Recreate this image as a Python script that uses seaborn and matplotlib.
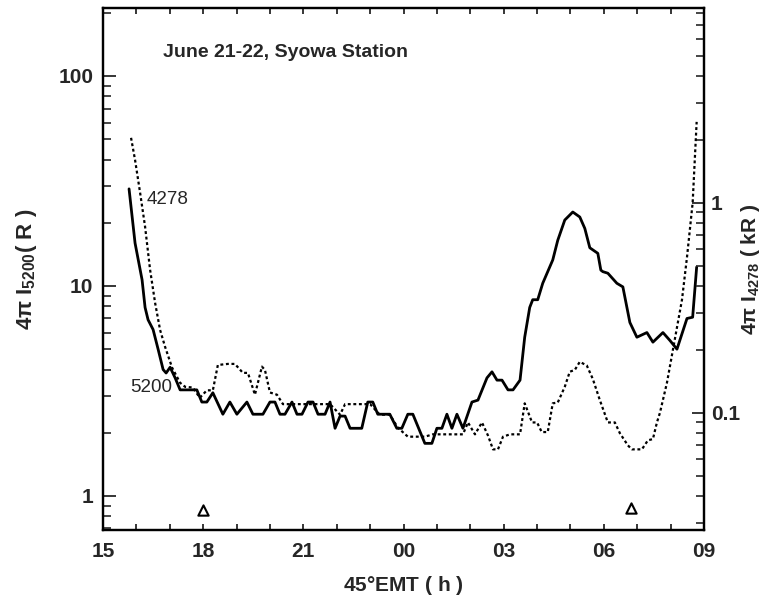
import matplotlib
matplotlib.use("Agg")
import matplotlib.pyplot as plt
import numpy as np
import pandas as pd
import seaborn as sns
from matplotlib.ticker import FixedLocator, LogLocator, NullFormatter, FixedFormatter

# Hours counted from 00 h on June 21 (values of 24 and above fall on June 22)
hour_5200 = [15.78, 15.96, 16.17, 16.26, 16.35, 16.50, 16.65, 16.80, 16.89, 17.01,
             17.16, 17.31, 17.81, 17.96, 18.11, 18.29, 18.59, 18.80, 19.01, 19.31,
             19.49, 19.79, 20.00, 20.15, 20.30, 20.45, 20.66, 20.81, 20.96, 21.14,
             21.29, 21.44, 21.65, 21.80, 21.95, 22.10, 22.25, 22.40, 22.75, 22.93,
             23.08, 23.23, 23.59, 23.80, 23.95, 24.13, 24.28, 24.64, 24.85, 25.00,
             25.15, 25.30, 25.45, 25.60, 25.78, 26.05, 26.23, 26.50, 26.65, 26.80,
             26.95, 27.13, 27.28, 27.49, 27.63, 27.78, 27.87, 28.02, 28.17, 28.47,
             28.62, 28.83, 29.07, 29.28, 29.43, 29.58, 29.82, 29.91, 29.97, 30.12,
             30.39, 30.57, 30.78, 30.99, 31.29, 31.47, 31.77, 31.98, 32.19, 32.49,
             32.66, 32.78]
intensity_5200_R = [29.0, 16.0, 10.7, 7.9, 6.9, 6.2, 5.0, 4.0, 3.85, 4.1,
                    3.65, 3.2, 3.2, 2.8, 2.8, 3.1, 2.45, 2.8, 2.45, 2.8,
                    2.45, 2.45, 2.8, 2.8, 2.45, 2.45, 2.8, 2.45, 2.45, 2.8,
                    2.8, 2.45, 2.45, 2.8, 2.1, 2.4, 2.4, 2.1, 2.1, 2.8,
                    2.8, 2.45, 2.45, 2.1, 2.1, 2.45, 2.45, 1.78, 1.78, 2.1,
                    2.1, 2.45, 2.1, 2.45, 2.1, 2.8, 2.86, 3.65, 3.9, 3.56,
                    3.56, 3.2, 3.2, 3.56, 5.7, 7.9, 8.6, 8.6, 10.3, 13.3,
                    16.5, 20.6, 22.5, 21.3, 18.8, 15.2, 14.3, 11.9, 11.7, 11.5,
                    10.3, 9.9, 6.7, 5.7, 6.0, 5.4, 6.0, 5.5, 5.0, 7.0,
                    7.1, 12.3]

hour_4278 = [15.84, 15.96, 16.11, 16.26, 16.41, 16.56, 16.71, 16.86, 17.07, 17.31,
             17.46, 17.69, 17.90, 18.11, 18.29, 18.44, 18.74, 18.95, 19.19, 19.34,
             19.55, 19.76, 19.85, 20.00, 20.21, 20.39, 20.90, 21.80, 22.10, 22.25,
             23.00, 23.29, 23.59, 23.83, 24.13, 24.64, 24.88, 25.78, 25.93, 26.14,
             26.35, 26.53, 26.68, 26.83, 26.98, 27.19, 27.49, 27.63, 27.85, 28.00,
             28.14, 28.32, 28.47, 28.62, 28.83, 28.98, 29.13, 29.28, 29.49, 29.67,
             29.88, 30.12, 30.33, 30.48, 30.72, 30.84, 31.14, 31.32, 31.47, 31.59,
             31.68, 31.89, 32.07, 32.34, 32.49, 32.66, 32.78]
intensity_4278_kR = [2.04, 1.6, 1.12, 0.77, 0.48, 0.334, 0.248, 0.206, 0.164, 0.139,
                     0.133, 0.132, 0.118, 0.128, 0.128, 0.169, 0.171, 0.171, 0.155, 0.155,
                     0.122, 0.166, 0.160, 0.125, 0.122, 0.110, 0.110, 0.110, 0.098, 0.110,
                     0.110, 0.098, 0.098, 0.085, 0.077, 0.077, 0.079, 0.079, 0.090, 0.079,
                     0.090, 0.078, 0.067, 0.067, 0.077, 0.079, 0.079, 0.111, 0.090, 0.090,
                     0.081, 0.081, 0.111, 0.112, 0.133, 0.157, 0.160, 0.175, 0.168, 0.145,
                     0.115, 0.090, 0.090, 0.080, 0.070, 0.067, 0.067, 0.074, 0.075, 0.090,
                     0.100, 0.139, 0.200, 0.345, 0.55, 1.0, 2.43]

# Open triangles near the bottom of the panel
triangle_hour = [18.0, 30.8]
triangle_R = [0.86, 0.88]

xtick_hours = [15, 18, 21, 24, 27, 30, 33]
xtick_labels = ["15", "18", "21", "00", "03", "06", "09"]
left_major = [1, 10, 100]
left_labels = ["1", "10", "100"]
right_major = [0.1, 1]
right_labels = ["0.1", "1"]

sns.set_theme(style="ticks")
FONT = ["Liberation Sans", "DejaVu Sans"]
plt.rcParams["font.family"] = FONT
plt.rcParams["font.weight"] = "bold"
plt.rcParams["mathtext.fontset"] = "custom"
plt.rcParams["mathtext.rm"] = "Liberation Sans:bold"
plt.rcParams["mathtext.it"] = "Liberation Sans:bold"
plt.rcParams["mathtext.default"] = "rm"

fig = plt.figure(figsize=(7.71, 6.07), dpi=100)
ax = fig.add_axes([0.1336, 0.127, 0.7795, 0.86])
ax2 = ax.twinx()

df5200 = pd.DataFrame({"hour": hour_5200, "I": intensity_5200_R})
df4278 = pd.DataFrame({"hour": hour_4278, "I": intensity_4278_kR})

sns.lineplot(data=df5200, x="hour", y="I", ax=ax, color="black",
             linewidth=2.0, estimator=None, sort=False)
sns.lineplot(data=df4278, x="hour", y="I", ax=ax2, color="black",
             linewidth=1.6, linestyle=(0, (1.3, 1.2)), estimator=None, sort=False)
sns.scatterplot(x=triangle_hour, y=triangle_R, ax=ax, marker="^", s=55,
                facecolor="white", edgecolor="black", linewidth=1.5, zorder=5)

ax.set_yscale("log")
ax2.set_yscale("log")
ax.set_xlim(15, 33)
ax.set_ylim(0.689, 211)
ax2.set_ylim(0.0277, 8.48)

# x ticks: labelled every 3 h, small marks every hour, on top and bottom
ax.xaxis.set_major_locator(FixedLocator(xtick_hours))
ax.xaxis.set_major_formatter(FixedFormatter(xtick_labels))
ax.xaxis.set_minor_locator(FixedLocator(np.arange(15, 34, 1)))
ax.tick_params(axis="x", which="both", direction="in", top=True, bottom=True,
               length=4.5, width=1.3, labelsize=15, pad=9)

ax.yaxis.set_major_locator(FixedLocator(left_major))
ax.yaxis.set_major_formatter(FixedFormatter(left_labels))
ax.yaxis.set_minor_locator(LogLocator(base=10, subs=np.arange(2, 10)))
ax.yaxis.set_minor_formatter(NullFormatter())
ax.tick_params(axis="y", which="major", direction="in", left=True, right=False,
               length=9, width=1.3, labelsize=15, pad=7)
ax.tick_params(axis="y", which="minor", direction="in", left=True, right=False,
               length=5.5, width=1.2)

ax2.yaxis.set_major_locator(FixedLocator(right_major))
ax2.yaxis.set_major_formatter(FixedFormatter(right_labels))
ax2.yaxis.set_minor_locator(LogLocator(base=10, subs=np.arange(2, 10)))
ax2.yaxis.set_minor_formatter(NullFormatter())
ax2.tick_params(axis="y", which="major", direction="in", right=True, left=False,
                length=9, width=1.3, labelsize=15, pad=5)
ax2.tick_params(axis="y", which="minor", direction="in", right=True, left=False,
                length=5.5, width=1.2)

for a in (ax, ax2):
    for s in a.spines.values():
        s.set_linewidth(1.6)
        s.set_color("black")
    for lab in a.get_xticklabels() + a.get_yticklabels():
        lab.set_fontweight("bold")

ax.set_xlabel("45$\\degree$EMT ( h )", fontsize=15, fontweight="bold", labelpad=9)
ax.set_ylabel("4$\\pi$ I$_{5200}$( R )", fontsize=16, fontweight="bold", labelpad=14)
ax2.set_ylabel("4$\\pi$ I$_{4278}$ ( kR )", fontsize=15, fontweight="bold",
               labelpad=-1, rotation=90)

ax.text(0.10, 0.915, "June 21-22, Syowa Station", transform=ax.transAxes,
        fontsize=14, fontweight="bold", ha="left", va="center")
ax.text(16.32, 25.7, "4278", fontsize=13.5, fontweight="normal", ha="left", va="center")
ax.text(15.81, 3.27, "5200", fontsize=13.5, fontweight="normal", ha="left", va="center")

fig.savefig("out.png", dpi=100)
